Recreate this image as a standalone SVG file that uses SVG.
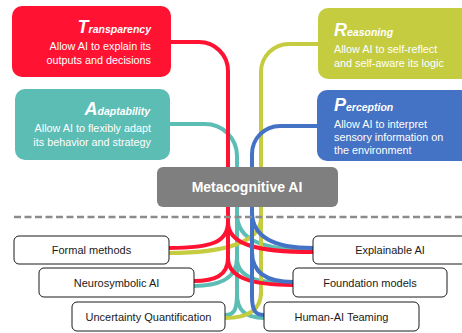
<svg xmlns="http://www.w3.org/2000/svg" width="462" height="333" viewBox="0 0 462 333">
<style>
.t{font-family:"Liberation Sans",Arial,sans-serif;fill:#fff;font-size:10.8px}
.h{font-weight:bold;font-style:italic}
.big{font-size:18px}
.sm{font-size:10.5px}
.b{font-family:"Liberation Sans",Arial,sans-serif;fill:#1a1a1a;font-size:11px;text-anchor:middle}
.bx{fill:#fff;stroke:#1a1a1a;stroke-width:1}
.c path{fill:none;stroke-width:4}
.r{stroke:#ff1232}.g{stroke:#5bbdb4}.y{stroke:#c5cc40}.u{stroke:#4472c4}
</style>
<rect width="462" height="333" fill="#fff"/>
<g id="connectors" class="c">
<g class="g">
<path d="M170,124 H205 A32,32 0 0 1 237,156 V298"/>
<path d="M237,214 C237,240 262,250 313,250"/>
<path d="M237,258 C237,280 216,286 194,286"/>
<path d="M237,258 C237,278 258,283 293,283"/>
<path d="M237,294 C237,310 234,315 225,315"/>
<path d="M237,294 C237,311 246,318 264,318"/>
</g>
<g class="y">
<path d="M318,44 H289 A28,28 0 0 0 261,72 V296"/>
<path d="M261,218 C261,242 225,253 169,253"/>
<path d="M261,292 C261,312 245,318 225,318"/>
</g>
<g class="r">
<path d="M171,42 H199 A29,29 0 0 1 228,71 V262"/>
<path d="M228,222 C228,242 212,248 169,248"/>
<path d="M228,222 C228,244 255,252 313,252"/>
<path d="M228,258 C228,276 214,281 194,281"/>
<path d="M228,258 C228,278 252,285 293,285"/>
</g>
<g class="u">
<path d="M317,126 H280 A28,28 0 0 0 252,154 V298"/>
<path d="M252,212 C252,238 275,248 313,248"/>
<path d="M252,252 C252,274 268,282 293,282"/>
<path d="M252,296 C252,310 255,315 264,315"/>
</g>
</g>
<g id="transparency">
<rect x="12" y="6" width="159" height="71" rx="10" fill="#ff1232"/>
<text class="t h" x="151" y="33" text-anchor="end"><tspan class="big">T</tspan><tspan class="sm">ransparency</tspan></text>
<text class="t" x="151" y="50" text-anchor="end">Allow AI to explain its</text>
<text class="t" x="151" y="64" text-anchor="end">outputs and decisions</text>
</g>
<g id="adaptability">
<rect x="15" y="89" width="155" height="71" rx="10" fill="#5bbdb4"/>
<text class="t h" x="150" y="115" text-anchor="end"><tspan class="big">A</tspan><tspan class="sm">daptability</tspan></text>
<text class="t" x="151" y="132" text-anchor="end">Allow AI to flexibly adapt</text>
<text class="t" x="151" y="146" text-anchor="end">its behavior and strategy</text>
</g>
<g id="reasoning">
<rect x="318" y="8" width="160" height="71" rx="10" fill="#c5cc40"/>
<text class="t h" x="334" y="36"><tspan class="big">R</tspan><tspan class="sm">easoning</tspan></text>
<text class="t" x="334" y="53">Allow AI to self-reflect</text>
<text class="t" x="334" y="67">and self-aware its logic</text>
</g>
<g id="perception">
<rect x="317" y="90" width="160" height="71" rx="10" fill="#4472c4"/>
<text class="t h" x="334" y="111"><tspan class="big">P</tspan><tspan class="sm">erception</tspan></text>
<text class="t" x="334" y="128">Allow AI to interpret</text>
<text class="t" x="334" y="141">sensory information on</text>
<text class="t" x="334" y="154">the environment</text>
</g>
<g id="metacognitive">
<rect x="157" y="167" width="181" height="40" rx="6" fill="#7f7f7f"/>
<text x="247" y="192" text-anchor="middle" font-family="Liberation Sans, Arial, sans-serif" font-weight="bold" font-size="14" fill="#fff">Metacognitive AI</text>
</g>
<line id="divider" x1="14" y1="217" x2="462" y2="217" stroke="#8c8c8c" stroke-width="2.5" stroke-dasharray="7 3.5"/>
<g id="formal">
<rect class="bx" x="14" y="236" width="155" height="28" rx="5"/>
<text class="b" x="91.5" y="254">Formal methods</text>
</g>
<g id="neurosymbolic">
<rect class="bx" x="39" y="268" width="155" height="29" rx="5"/>
<text class="b" x="116.5" y="287">Neurosymbolic AI</text>
</g>
<g id="uncertainty">
<rect class="bx" x="72" y="302" width="153" height="29" rx="5"/>
<text class="b" x="148.5" y="321">Uncertainty Quantification</text>
</g>
<g id="explainable">
<rect class="bx" x="313" y="236" width="155" height="28" rx="5"/>
<text class="b" x="390" y="254">Explainable AI</text>
</g>
<g id="foundation">
<rect class="bx" x="293" y="268" width="154" height="29" rx="5"/>
<text class="b" x="370" y="287">Foundation models</text>
</g>
<g id="human">
<rect class="bx" x="264" y="302" width="155" height="29" rx="5"/>
<text class="b" x="341.5" y="321">Human-AI Teaming</text>
</g>
</svg>
